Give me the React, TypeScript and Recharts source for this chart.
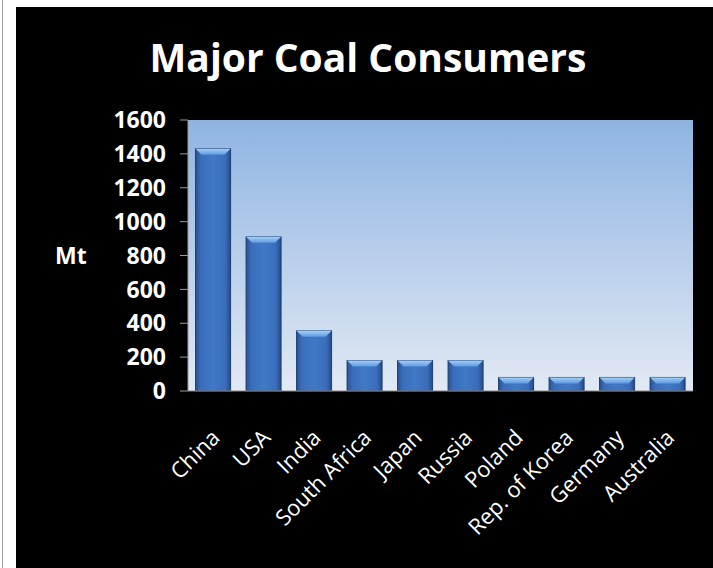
import { Bar, BarChart, CartesianGrid, ReferenceArea, XAxis, YAxis } from "recharts";
import { JSX } from "react";

const countries = [
  "China",
  "USA",
  "India",
  "South Africa",
  "Japan",
  "Russia",
  "Poland",
  "Rep. of Korea",
  "Germany",
  "Australia",
];
const consumption = [1430, 910, 355, 180, 180, 180, 80, 80, 80, 80];
const yTicks = [0, 200, 400, 600, 800, 1000, 1200, 1400, 1600];

const data = countries.map((name, i) => ({ name, mt: consumption[i] }));

const FONT = "'Open Sans', sans-serif";

function BevelBar(props: any): JSX.Element | null {
  const { x, y, width, height } = props;
  if (!height || height <= 0) return null;
  const b = Math.min(6, height / 2);
  return (
    <g>
      <rect x={x} y={y} width={width} height={height} fill="url(#barBody)" stroke="#1d3d6e" strokeWidth={1} />
      <polygon
        points={`${x},${y} ${x + width},${y} ${x + width - b},${y + b} ${x + b},${y + b}`}
        fill="url(#barTop)"
      />
    </g>
  );
}

function CountryTick(props: any): JSX.Element {
  const { x, y, payload } = props;
  return (
    <g transform={`translate(${x + 8},${y + 48})`}>
      <text x={0} y={0} transform="rotate(-45)" textAnchor="end" fill="#ffffff" fontSize={22} fontFamily={FONT}>
        {payload.value}
      </text>
    </g>
  );
}

export default function App(): JSX.Element {
  return (
    <div style={{ position: "fixed", left: 0, top: 0, width: 713, height: 568, background: "#ffffff", overflow: "hidden" }}>
      <div style={{ position: "absolute", left: 2, top: 0, width: 1, height: 568, background: "#a0a0a0" }} />
      <div style={{ position: "absolute", left: 16, top: 7, width: 697, height: 561, background: "#000000" }}>
        <div
          style={{
            position: "absolute",
            left: 0,
            top: 30,
            width: 704,
            textAlign: "center",
            color: "#ffffff",
            fontFamily: FONT,
            fontWeight: 700,
            fontSize: 39,
            lineHeight: 1,
          }}
        >
          Major Coal Consumers
        </div>
        <BarChart
          width={697}
          height={561}
          data={data}
          margin={{ top: 113, right: 20, bottom: 0, left: 34 }}
          barCategoryGap="15%"
          style={{ fontFamily: FONT }}
        >
          <defs>
            <linearGradient id="plotBg" x1="0" y1="0" x2="0" y2="1">
              <stop offset="0%" stopColor="#8fb4e2" />
              <stop offset="100%" stopColor="#e2e9f4" />
            </linearGradient>
            <linearGradient id="barBody" x1="0" y1="0" x2="1" y2="0">
              <stop offset="0%" stopColor="#2a5291" />
              <stop offset="15%" stopColor="#3a6dbb" />
              <stop offset="50%" stopColor="#4079c6" />
              <stop offset="85%" stopColor="#3a6dbb" />
              <stop offset="100%" stopColor="#254b86" />
            </linearGradient>
            <linearGradient id="barTop" x1="0" y1="0" x2="0" y2="1">
              <stop offset="0%" stopColor="#a4d0f8" />
              <stop offset="100%" stopColor="#5f99e0" />
            </linearGradient>
          </defs>
          <CartesianGrid horizontal={false} vertical={false} fill="url(#plotBg)" />
          <ReferenceArea fill="none" stroke="#8c8c8c" strokeWidth={1} ifOverflow="visible" />
          <XAxis
            dataKey="name"
            interval={0}
            height={177}
            tickLine={false}
            tickSize={0}
            tickMargin={0}
            axisLine={{ stroke: "#8c8c8c" }}
            tick={<CountryTick />}
          />
          <YAxis
            width={138}
            domain={[0, 1600]}
            ticks={yTicks}
            interval={0}
            tickSize={8}
            tickMargin={14}
            axisLine={{ stroke: "#9a9a9a" }}
            tickLine={{ stroke: "#9a9a9a" }}
            tick={{ fill: "#ffffff", fontSize: 23, fontWeight: 700, fontFamily: FONT }}
            label={{
              value: "Mt",
              position: "insideLeft",
              fill: "#ffffff",
              fontSize: 23,
              fontWeight: 700,
              fontFamily: FONT,
            }}
          />
          <Bar dataKey="mt" isAnimationActive={false} shape={<BevelBar />} />
        </BarChart>
      </div>
    </div>
  );
}
